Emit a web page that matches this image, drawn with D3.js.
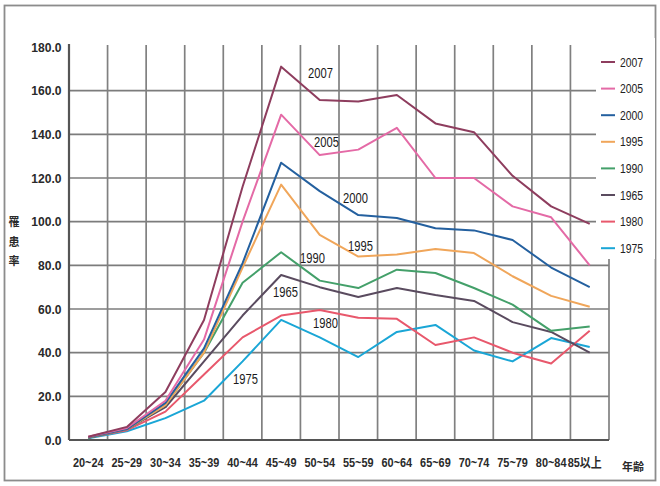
<!DOCTYPE html>
<html><head><meta charset="utf-8">
<script src="https://cdn.jsdelivr.net/npm/d3@7"></script>
<style>
html,body{margin:0;padding:0;background:#fff;}
svg{display:block;}
.nar{font-family:"Liberation Sans",Arial,"Noto Sans CJK JP",sans-serif;}
</style></head>
<body>
<svg id="c" width="660" height="486"></svg>
<script>
const ages = ["20~24","25~29","30~34","35~39","40~44","45~49","50~54","55~59","60~64","65~69","70~74","75~79","80~84","85以上"];
const years = ["2007","2005","2000","1995","1990","1965","1980","1975"];
const colors = ["#8e3d5e","#e46aa6","#24609f","#f0a65a","#44a06a","#5a4b5f","#e8586c","#1aa6d6"];
const v2007 = [1.5, 6, 22, 55, 116, 171, 155.7, 155, 158, 145, 141, 121, 107, 99];
const v2005 = [1.5, 5.5, 18, 46, 100, 149, 130.5, 133, 143, 120, 120, 107, 102, 80];
const v2000 = [1.2, 5, 17, 42, 81, 127, 114, 103, 101.7, 97, 96, 91.6, 79, 70];
const v1995 = [1.2, 5, 16, 40, 79, 117, 94, 84, 85, 87.5, 85.6, 75, 66, 61];
const v1990 = [1.0, 5, 16, 40, 72, 86, 73, 69.6, 78, 76.5, 69.6, 62, 50, 52];
const v1965 = [1.0, 5, 15, 36, 57, 75.6, 70, 65.5, 69.6, 66.4, 63.7, 54, 49.5, 40];
const v1980 = [1.0, 4.5, 13, 30, 47, 57, 59.5, 56, 55.5, 43.5, 47, 40, 35, 50];
const v1975 = [0.8, 4, 10, 18, 36, 55, 47, 38, 49.5, 52.7, 41, 36, 46.7, 42.6];
const seriesValues = [v2007, v2005, v2000, v1995, v1990, v1965, v1980, v1975];
const yTicks = [0,20,40,60,80,100,120,140,160,180];
// in-chart label anchor (left x, baseline y) per series, same order as years
const labelPos = [[308,78],[314,147],[343,203],[348,251],[300,263],[273,297],[313,328],[233,384]];

const svg = d3.select("#c");
const L=69, R=609, T=45, B=440;
const x = d3.scaleBand().domain(ages).range([L,R]);
const y = d3.scaleLinear().domain([0,180]).range([B,47]);
const cx = d => x(d)+x.bandwidth()/2;

// outer frame
svg.append("rect").attr("x",4.5).attr("y",5.5).attr("width",651).attr("height",475)
  .attr("fill","#fff").attr("stroke","#8c8c8c").attr("stroke-width",1.8);

// horizontal gridlines
svg.append("g").selectAll("line").data(yTicks.filter(t=>t>0 && t<180)).join("line")
  .attr("x1",L).attr("x2",R).attr("y1",d=>y(d)).attr("y2",d=>y(d))
  .attr("stroke","#7c7c7c").attr("stroke-width",1.7);
// vertical gridlines
const vx = ages.map(a=>x(a)).slice(1).concat([R]);
svg.append("g").selectAll("line").data(vx).join("line")
  .attr("x1",d=>d).attr("x2",d=>d).attr("y1",T).attr("y2",B)
  .attr("stroke","#808080").attr("stroke-width",1.7);

// axes lines
svg.append("line").attr("x1",L).attr("x2",L).attr("y1",T-1).attr("y2",B).attr("stroke","#555").attr("stroke-width",2.2);
svg.append("line").attr("x1",L).attr("x2",R).attr("y1",B).attr("y2",B).attr("stroke","#555").attr("stroke-width",2.2);

// y tick labels
const ya = svg.append("g").attr("transform",`translate(${L},0)`)
  .call(d3.axisLeft(y).tickValues(yTicks).tickFormat(d3.format(".1f")).tickSize(0).tickPadding(8));
ya.select(".domain").remove();
ya.selectAll("text").attr("class","nar").attr("font-size",13).attr("font-weight","bold").attr("fill","#2a2a2a")
  .attr("transform","scale(0.93,1)");

// x tick labels
const xa = svg.append("g").attr("transform",`translate(0,${B})`)
  .call(d3.axisBottom(x).tickSize(0).tickPadding(18));
xa.select(".domain").remove();
xa.selectAll("text").attr("class","nar").attr("font-size",13).attr("font-weight","bold").attr("fill","#2a2a2a")
  .attr("transform","scale(0.84,1)");
xa.selectAll(".tick").filter(d=>d==="85以上").attr("transform",`translate(${cx("85以上")-5},0)`);

// axis titles
svg.append("text").attr("x",633).attr("y",471).attr("text-anchor","middle")
  .attr("font-family","'Noto Sans CJK JP',sans-serif").attr("font-size",11).attr("font-weight","bold").attr("fill","#2a2a2a").text("年齢");
const ytitle = ["罹","患","率"];
svg.append("g").selectAll("text").data(ytitle).join("text")
  .attr("x",14).attr("y",(d,i)=>226+i*19.5).attr("text-anchor","middle")
  .attr("font-family","'Noto Sans CJK JP',sans-serif").attr("font-size",11).attr("font-weight","bold").attr("fill","#2a2a2a").text(d=>d);

// lines (draw older first so newer on top)
const line = d3.line().x((d,i)=>cx(ages[i])).y(d=>y(d));
const order = d3.range(years.length).reverse();
svg.append("g").selectAll("path").data(order).join("path")
  .attr("d",i=>line(seriesValues[i])).attr("fill","none")
  .attr("stroke",i=>colors[i]).attr("stroke-width",2).attr("stroke-linejoin","round");

// in-chart labels
svg.append("g").selectAll("text").data(years).join("text")
  .attr("class","nar").attr("transform",(d,i)=>`translate(${labelPos[i][0]},${labelPos[i][1]}) scale(0.8,1)`)
  .attr("font-size",14).attr("fill","#1a1a1a").text(d=>d);

// legend
const lg = svg.append("g");
lg.append("rect").attr("x",596).attr("y",38).attr("width",59).attr("height",221).attr("fill","#fff");
const li = lg.selectAll("g").data(years).join("g").attr("transform",(d,i)=>`translate(0,${62+i*26.6})`);
li.append("line").attr("x1",601).attr("x2",615).attr("y1",0).attr("y2",0)
  .attr("stroke",(d,i)=>colors[i]).attr("stroke-width",2);
li.append("text").attr("class","nar").attr("transform","translate(620,4.5) scale(0.8,1)").attr("font-size",13).attr("fill","#222").text(d=>d);
</script>
</body></html>
